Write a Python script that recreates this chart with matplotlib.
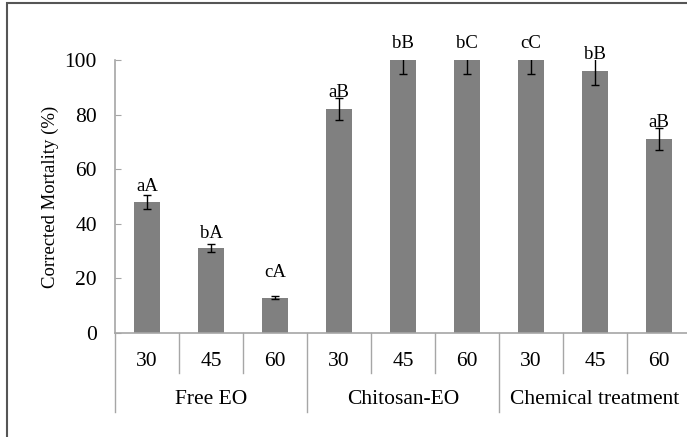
import numpy as np
import matplotlib.pyplot as plt
from matplotlib.patches import Rectangle

groups = ['Free EO', 'Chitosan-EO', 'Chemical treatment']
times = ['30', '45', '60']
mortality = [48, 31, 13, 82, 100, 100, 100, 96, 71]
errors = [2.5, 1.5, 0.7, 4, 5, 5, 5, 5, 4]
letters = ['aA', 'bA', 'cA', 'aB', 'bB', 'bC', 'cC', 'bB', 'aB']

plt.rcParams['font.family'] = ['Liberation Serif', 'DejaVu Serif']

fig = plt.figure(figsize=(6.87, 4.37), dpi=100)
ax = fig.add_axes([115/687, 1-333/437, 576/687, 273/437])

x = np.arange(len(mortality))
ax.bar(x, mortality, width=0.4, color='#808080', zorder=2)
ax.errorbar(x, mortality, yerr=errors, fmt='none', ecolor='black',
            elinewidth=1, capsize=3, capthick=1, zorder=3)

# letters above the bars
offsets = [5.5, 5.5, 9, 6, 6, 6, 6, 6, 6]
for xi, v, lab, off in zip(x, mortality, letters, offsets):
    ax.text(xi, v + off, lab, ha='center', va='center', fontsize=13.5, clip_on=False)

ax.set_xlim(-0.5, len(mortality) - 0.5)
ax.set_ylim(0, 100)
ax.set_yticks([0, 20, 40, 60, 80, 100])
ax.tick_params(axis='y', direction='in', length=4, color='#a6a6a6',
               labelsize=15.5, pad=13)
ax.set_xticks([])
for s in ['top', 'right']:
    ax.spines[s].set_visible(False)
for s in ['left', 'bottom']:
    ax.spines[s].set_color('#a6a6a6')
    ax.spines[s].set_linewidth(1.2)

# two level category axis
trans = ax.get_xaxis_transform()
n_t = len(times)
for i in range(len(mortality) + 1):
    depth = -0.289 if i % n_t == 0 else -0.1465
    ax.plot([i - 0.5, i - 0.5], [0, depth], color='#a6a6a6', lw=1,
            transform=trans, clip_on=False)
for i in range(len(mortality)):
    ax.text(i, -0.106, times[i % n_t], ha='center', va='center', fontsize=15.5,
            transform=trans)
for g, name in enumerate(groups):
    ax.text(g * n_t + 1, -0.245, name, ha='center', va='center', fontsize=15.5,
            transform=trans)

fig.text(50/687, 1-197/437, 'Corrected Mortality (%)', rotation=90,
         ha='center', va='center', fontsize=13.5)

# outer chart frame
fig.add_artist(Rectangle((6.5/687, -0.1), 2, 1.1 - 3.5/437, transform=fig.transFigure,
                         fill=False, ec='#555555', lw=1.5))

fig.savefig('out.png', dpi=100)
